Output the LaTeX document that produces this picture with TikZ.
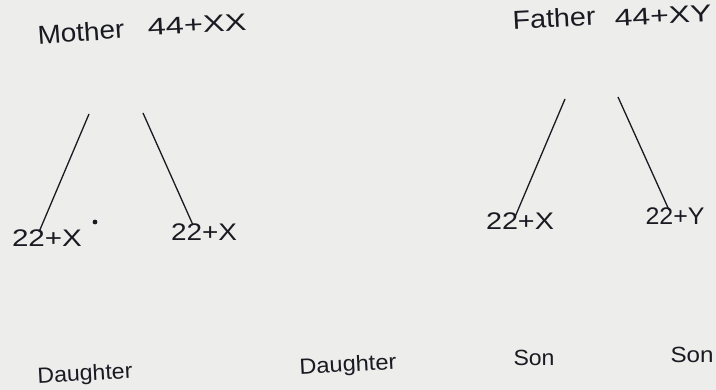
\documentclass[tikz,border=0pt]{standalone}
\usepackage{fontspec}
\usepackage{graphicx}
\setmainfont{Liberation Sans}
\definecolor{paper}{HTML}{EDEDEB}
\definecolor{ink}{HTML}{1A1A22}
\newsavebox{\hwbox}
\newcommand{\hw}[2]{\sbox{\hwbox}{#2}\resizebox{#1}{\ht\hwbox}{\usebox{\hwbox}}}
\tikzset{
  lbl/.style={inner sep=0pt, text=ink, font=\fontsize{26}{29}\selectfont},
  kar/.style={inner sep=0pt, text=ink, font=\fontsize{24}{27}\selectfont},
  kid/.style={inner sep=0pt, text=ink, font=\fontsize{24}{27}\selectfont},
  off/.style={inner sep=0pt, text=ink, font=\fontsize{22}{25}\selectfont},
  link/.style={draw=ink, line width=1.3pt}
}
\begin{document}
\begin{tikzpicture}[x=1pt, y=-1pt]
\fill[paper] (0,0) rectangle (716,390);
\useasboundingbox (0,0) rectangle (716,390);
% parents
\node[lbl, rotate=4] (mother) at (81,32) {\hw{87pt}{Mother}};
\node[kar, rotate=3] (mkar) at (197,25) {\hw{99pt}{44+XX}};
\node[lbl, rotate=3] (father) at (554,18) {\hw{83pt}{Father}};
\node[kar, rotate=3] (fkar) at (663,16) {\hw{97pt}{44+XY}};
% gametes
\node[kid] (c1) at (47,238) {\hw{70pt}{22+X}};
\node[kid] (c2) at (204,232) {\hw{66pt}{22+X}};
\node[kid] (c3) at (520,221) {\hw{68pt}{22+X}};
\node[kid] (c4) at (675,216) {\hw{59pt}{22+Y}};
% line tops
\coordinate (m1) at (89,114);
\coordinate (m2) at (143,113);
\coordinate (f1) at (565,99);
\coordinate (f2) at (618,97);
\draw[link] (m1) -- ([xshift=-8pt,yshift=6pt]c1.center);
\draw[link] (m2) -- ([xshift=-11pt,yshift=7pt]c2.center);
\draw[link] (f1) -- ([xshift=-5pt,yshift=4pt]c3.center);
\draw[link] (f2) -- ([xshift=-6pt,yshift=6pt]c4.center);
% ink spot
\fill[ink] (95,222) circle (2.4pt);
% offspring
\node[off, rotate=3] (d1) at (85,375) {\hw{95pt}{Daughter}};
\node[off, rotate=3] (d2) at (348,366) {\hw{97pt}{Daughter}};
\node[off] (s1) at (534,358) {\hw{41pt}{Son}};
\node[off] (s2) at (692,355) {\hw{43pt}{Son}};
\end{tikzpicture}
\end{document}
